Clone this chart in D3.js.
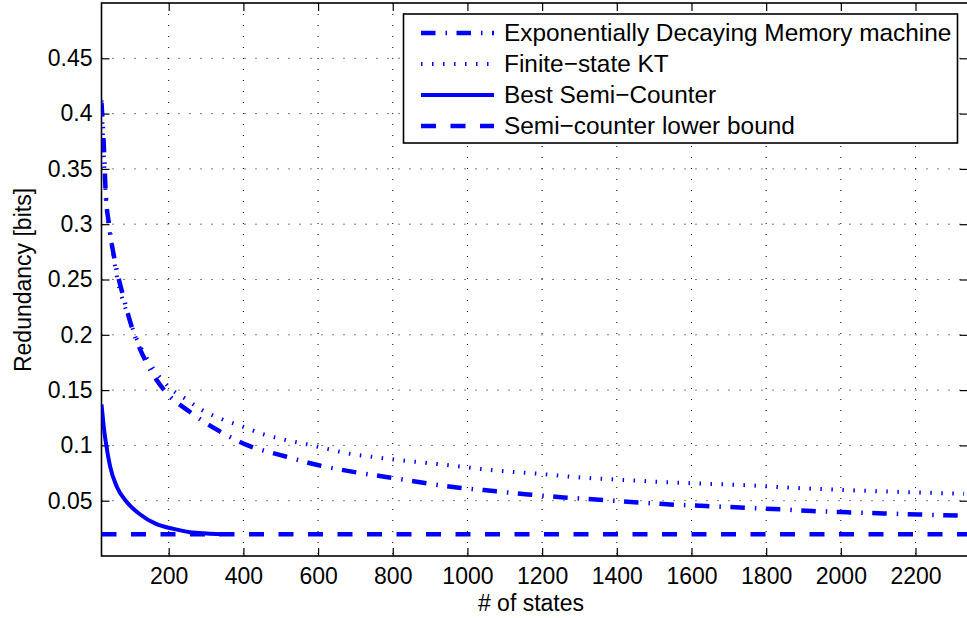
<!DOCTYPE html>
<html>
<head>
<meta charset="utf-8">
<script src="https://cdn.jsdelivr.net/npm/d3@7"></script>
<style>
  body { margin: 0; background: #fff; }
  text { font-family: "Liberation Sans", Arial, sans-serif; fill: #000; }
</style>
</head>
<body>
<div id="chart"></div>
<script>
// values
const edmStates = [20, 27, 31, 40, 55, 78, 103, 140, 185, 258, 330, 412, 502, 596, 687, 782, 972, 1070, 1162, 1257, 1353, 1447, 1543, 1638, 1838, 1923, 2018, 2114, 2209, 2330];
const edmValues = [0.41, 0.365, 0.33, 0.30, 0.268, 0.235, 0.205, 0.175, 0.151, 0.130, 0.114, 0.100, 0.091, 0.0825, 0.0765, 0.0715, 0.062, 0.0587, 0.0557, 0.053, 0.0509, 0.0487, 0.0466, 0.0452, 0.0422, 0.0407, 0.0395, 0.0385, 0.0375, 0.0365];

const ktStates = [20, 30, 50, 100, 150, 200, 250, 289, 340, 398, 454, 512, 570, 628, 684, 744, 803, 952, 1068, 1186, 1306, 1422, 1542, 1659, 1748, 1868, 1984, 2104, 2222, 2330];
const ktValues = [0.412, 0.335, 0.276, 0.209, 0.174, 0.153, 0.141, 0.132, 0.124, 0.117, 0.110, 0.105, 0.101, 0.0966, 0.0925, 0.0897, 0.0873, 0.082, 0.0775, 0.0745, 0.0709, 0.0687, 0.0666, 0.0651, 0.064, 0.0617, 0.060, 0.0585, 0.0573, 0.0562];

const semiStates = [20, 23, 26, 32, 43, 61, 87, 121, 166, 213, 257, 302, 340];
const semiValues = [0.137, 0.127, 0.117, 0.102, 0.081, 0.0627, 0.049, 0.0382, 0.029, 0.0245, 0.0215, 0.0203, 0.0197];

const boundStates = [20, 2340];
const boundValues = [0.0197, 0.0197];

const xTicks = [200, 400, 600, 800, 1000, 1200, 1400, 1600, 1800, 2000, 2200];
const yTicks = [0.05, 0.1, 0.15, 0.2, 0.25, 0.3, 0.35, 0.4, 0.45];

const legendLabels = ["Exponentially Decaying Memory machine", "Finite\u2212state KT", "Best Semi\u2212Counter", "Semi\u2212counter lower bound"];

const svgW = 967, svgH = 618;
const plotL = 101.5, plotR = 967.8, plotT = 3, plotB = 556;
const blue = "#0000ff";

const svg = d3.select("#chart").append("svg")
    .attr("width", svgW)
    .attr("height", svgH);

const x = d3.scaleLinear().domain([20, 2340]).range([plotL, plotR]);
const y = d3.scaleLinear().domain([0, 0.5]).range([plotB, plotT]);

// grid
svg.append("g").selectAll("line")
    .data(xTicks).enter().append("line")
    .attr("x1", d => x(d)).attr("x2", d => x(d))
    .attr("y1", plotT).attr("y2", plotB)
    .attr("stroke", "#000").attr("stroke-width", 1)
    .attr("stroke-dasharray", "1,10");
svg.append("g").selectAll("line")
    .data(yTicks).enter().append("line")
    .attr("x1", plotL).attr("x2", plotR)
    .attr("y1", d => y(d)).attr("y2", d => y(d))
    .attr("stroke", "#000").attr("stroke-width", 1)
    .attr("stroke-dasharray", "1,10");

// axes with inward ticks, box on
const fmt = d => String(+d.toFixed(2));
svg.append("g")
    .attr("transform", `translate(0,${plotB})`)
    .call(d3.axisBottom(x).tickValues(xTicks).tickSize(-8).tickPadding(12).tickFormat(d3.format("d")))
    .call(g => g.select(".domain").remove());
svg.append("g")
    .attr("transform", `translate(0,${plotT})`)
    .call(d3.axisTop(x).tickValues(xTicks).tickSize(-8).tickFormat(""))
    .call(g => g.select(".domain").remove());
svg.append("g")
    .attr("transform", `translate(${plotL},0)`)
    .call(d3.axisLeft(y).tickValues(yTicks).tickSize(-8).tickPadding(9).tickFormat(fmt))
    .call(g => g.select(".domain").remove());
svg.append("g")
    .attr("transform", `translate(${plotR},0)`)
    .call(d3.axisRight(y).tickValues(yTicks).tickSize(-8).tickFormat(""))
    .call(g => g.select(".domain").remove());

svg.selectAll(".tick line").attr("stroke", "#000").attr("stroke-width", 1.2);
svg.selectAll(".tick text")
    .style("font-size", "23px")
    .style("font-family", "'Liberation Sans', Arial, sans-serif");

svg.append("rect")
    .attr("x", plotL).attr("y", plotT)
    .attr("width", plotR - plotL).attr("height", plotB - plotT)
    .attr("fill", "none").attr("stroke", "#000").attr("stroke-width", 1.6);

// curves
svg.append("clipPath").attr("id", "plotclip")
    .append("rect").attr("x", plotL).attr("y", plotT)
    .attr("width", plotR - plotL).attr("height", plotB - plotT);

const line = d3.line()
    .x(d => x(d[0])).y(d => y(d[1]))
    .curve(d3.curveMonotoneX);

const series = [
    { xs: edmStates, ys: edmValues, width: 4.5, dash: "14.5,10,1.5,9.5" },
    { xs: ktStates, ys: ktValues, width: 4, dash: "1.5,9.5" },
    { xs: semiStates, ys: semiValues, width: 4, dash: null },
    { xs: boundStates, ys: boundValues, width: 4.5, dash: "15,14.5" }
];

const plot = svg.append("g").attr("clip-path", "url(#plotclip)");
series.forEach(s => {
    plot.append("path")
        .datum(d3.zip(s.xs, s.ys))
        .attr("d", line)
        .attr("fill", "none")
        .attr("stroke", blue)
        .attr("stroke-width", s.width)
        .attr("stroke-dasharray", s.dash);
});

// legend
const lg = svg.append("g");
lg.append("rect")
    .attr("x", 403.5).attr("y", 14)
    .attr("width", 554).attr("height", 129)
    .attr("fill", "#fff").attr("stroke", "#000").attr("stroke-width", 1.6);
const rowY = [33, 64, 95, 126];
legendLabels.forEach((lab, i) => {
    lg.append("line")
        .attr("x1", 421).attr("x2", 494)
        .attr("y1", rowY[i]).attr("y2", rowY[i])
        .attr("stroke", blue)
        .attr("stroke-width", series[i].width)
        .attr("stroke-dasharray", series[i].dash);
    lg.append("text")
        .attr("x", 504).attr("y", rowY[i] + 8)
        .style("font-size", "24.4px")
        .text(lab);
});

// axis titles
svg.append("text")
    .attr("x", 531).attr("y", 611)
    .attr("text-anchor", "middle")
    .style("font-size", "23px")
    .text("# of states");
svg.append("text")
    .attr("transform", "translate(31,280) rotate(-90)")
    .attr("text-anchor", "middle")
    .style("font-size", "23px")
    .text("Redundancy [bits]");
</script>
</body>
</html>
